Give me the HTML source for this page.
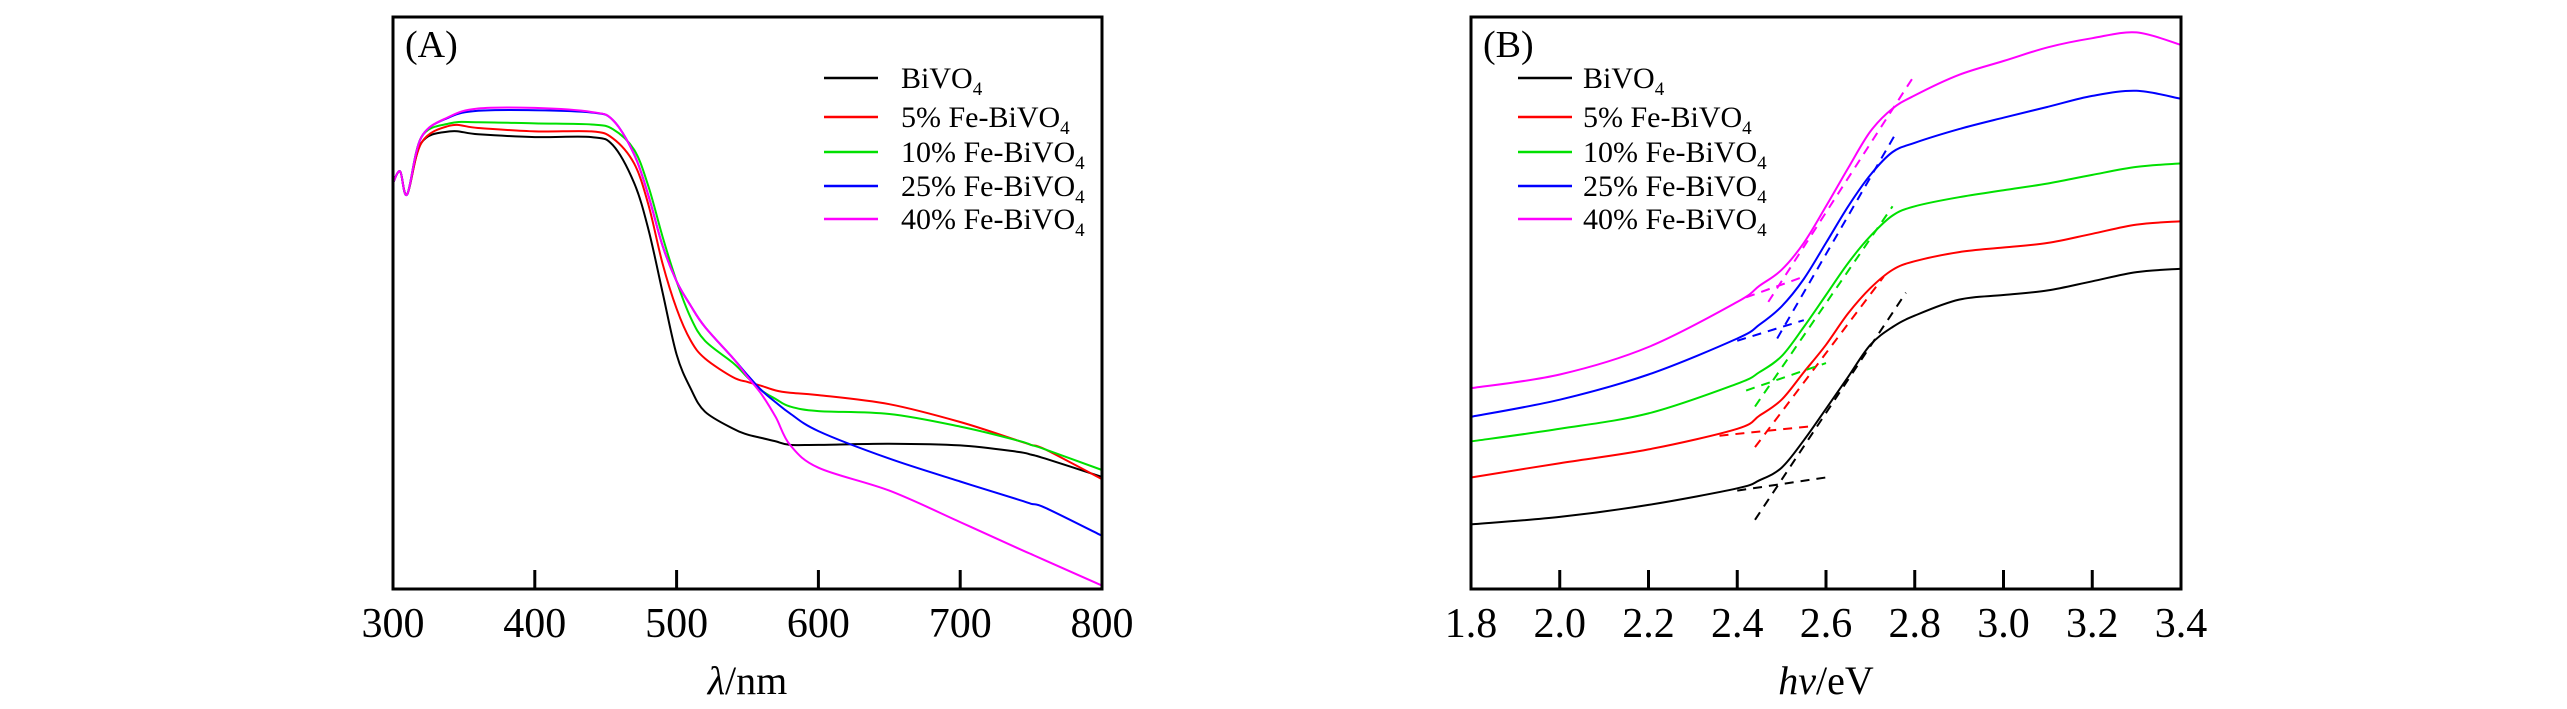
<!DOCTYPE html>
<html><head><meta charset="utf-8"><style>
html,body{margin:0;padding:0;background:#fff;}
svg{display:block;font-family:"Liberation Serif","Times New Roman",serif;}
</style></head><body>
<svg id="fig" width="2567" height="709" viewBox="0 0 2567 709" xmlns="http://www.w3.org/2000/svg"></svg>
<script>
// ---- Panel A data (wavelength nm, relative absorbance 0-100) ----
const aLambda = [300,305,310,320,340,360,400,440,455,470,480,490,500,510,520,540,550,560,570,580,600,650,700,740,750,760,800];
const aBlack  = [71,73,69,78,80,79.5,79,79,77.6,71,63,52,41,35,31,28,27,26.4,25.8,25.2,25.2,25.4,25.1,24,23.5,22.8,19.6];
const aRed    = [71,73,69,78,81,80.6,80,80,78.8,74.4,67.3,57,49,43.4,40.3,37,36.2,35.5,34.7,34.3,33.9,32.3,29.2,26,25.2,24.4,19.2];
const aGreen  = [71,73,69,79,81.4,81.6,81.4,81.2,80.4,76.8,70.5,61.7,53.8,47.4,43.4,39.5,37,34.7,33.2,31.9,31.1,30.6,28.4,26,25.2,24.4,20.8];
const aBlue   = [71,73,69,79,82.5,83.6,83.7,83.3,82,76,68.9,60.1,53.8,49.5,45.8,40.3,37.4,34.7,32.6,30.7,27.6,22.8,18.8,15.7,14.9,14.2,9.3];
const aMag    = [71,73,69,79,82.6,84,84.1,83.4,82,76,68.9,60.1,53.8,49.5,45.8,40.3,37.1,34,30,25.2,21.2,17.2,11.7,7.2,6.1,5,0.6];
const aTicks  = [300,400,500,600,700,800];
// ---- Panel B data (photon energy eV) ----
const bEnergy = [1.8,2.0,2.2,2.4,2.45,2.5,2.55,2.6,2.65,2.7,2.75,2.8,2.9,3.0,3.1,3.2,3.3,3.4];
const bBlack  = [11.3,12.6,14.7,17.6,19,21.2,26,31.5,37.1,42.7,45.8,47.8,50.6,51.4,52.2,53.8,55.4,56];
const bRed    = [19.5,22,24.4,28,30.3,33.1,37.9,42.7,48.2,52.6,55.8,57.3,58.9,59.7,60.5,62.1,63.7,64.3];
const bGreen  = [25.8,28,30.7,35.9,37.9,40.7,45.8,51.4,57,61.7,65.3,66.9,68.5,69.7,70.9,72.4,73.8,74.4];
const bBlue   = [30.1,33.1,37.5,43.8,46.2,49.4,54.2,60.5,66.9,72.4,76.4,78,80.4,82.4,84.3,86.2,87.1,85.7];
const bMag    = [35.1,37.5,42.3,50.2,53,55.8,60.5,66.9,73.6,80,84,86.3,89.9,92.3,94.7,96.3,97.3,95.1];
const bTicks  = [1.8,2.0,2.2,2.4,2.6,2.8,3.0,3.2,3.4];
// tangent (dashed) lines: [x1,y1,x2,y2]
const bTanBlack = [[2.4,17.2,2.6,19.5],[2.44,12.1,2.78,51.8]];
const bTanRed   = [[2.36,26.8,2.56,28.4],[2.44,24.8,2.73,54.6]];
const bTanGreen = [[2.42,34.7,2.6,39.5],[2.44,31.9,2.75,66.9]];
const bTanBlue  = [[2.4,43.4,2.55,47],[2.49,43.8,2.76,80]];
const bTanMag   = [[2.42,51,2.55,54.6],[2.47,50.2,2.8,89.9]];
const seriesNames = ["BiVO4","5% Fe-BiVO4","10% Fe-BiVO4","25% Fe-BiVO4","40% Fe-BiVO4"];
const colors = ["#000000","#ff0000","#00e000","#0000ff","#ff00ff"];

const NS="http://www.w3.org/2000/svg";
const svg=document.getElementById('fig');
function mk(tag,attrs,parent){const e=document.createElementNS(NS,tag);for(const k in attrs)e.setAttribute(k,attrs[k]);(parent||svg).appendChild(e);return e;}
const plotTop=17, plotBot=589;
function yS(v){return plotBot-(v/100)*(plotBot-plotTop);}
function smooth(pts){
  let d='M'+pts[0][0].toFixed(1)+','+pts[0][1].toFixed(1);
  for(let i=0;i<pts.length-1;i++){
    const p0=pts[i-1]||pts[i],p1=pts[i],p2=pts[i+1],p3=pts[i+2]||p2;
    const c1=[p1[0]+(p2[0]-p0[0])/6,p1[1]+(p2[1]-p0[1])/6];
    const c2=[p2[0]-(p3[0]-p1[0])/6,p2[1]-(p3[1]-p1[1])/6];
    d+='C'+c1[0].toFixed(1)+','+c1[1].toFixed(1)+' '+c2[0].toFixed(1)+','+c2[1].toFixed(1)+' '+p2[0].toFixed(1)+','+p2[1].toFixed(1);
  }
  return d;
}

function panel(id,x0,x1,xmin,xmax,ticks,fmt,xs,ys,label,xlabelHTML,legX,legTextX,tans){
  const g=mk('g',{});
  
  
  const xS=v=>x0+(v-xmin)/(xmax-xmin)*(x1-x0);
  ys.forEach((arr,i)=>{
    const pts=arr.map((v,j)=>[xS(xs[j]),yS(v)]);
    const p=mk('path',{d:smooth(pts),fill:'none',stroke:colors[i],'stroke-width':2,'stroke-linejoin':'round'},g);
    
    
  });
  if(tans){tans.forEach((set,i)=>set.forEach(t=>{
    const l=mk('line',{x1:xS(t[0]),y1:yS(t[1]),x2:xS(t[2]),y2:yS(t[3]),stroke:colors[i],'stroke-width':2,'stroke-dasharray':'9,7'},g);
    
    
  }));}
  const fr=mk('rect',{x:x0,y:plotTop,width:x1-x0,height:plotBot-plotTop,fill:'none',stroke:'#000','stroke-width':3},g);
  
  
  ticks.forEach(t=>{
    const x=xS(t);
    if(t>xmin+1e-9&&t<xmax-1e-9){const tk=mk('line',{x1:x,y1:plotBot,x2:x,y2:plotBot-19,stroke:'#000','stroke-width':3},g);
      
      }
    const tx=mk('text',{x:x,y:637,'font-size':42,'text-anchor':'middle'},g);
    tx.textContent=fmt(t);
    
    
  });
  const xl=mk('text',{x:(x0+x1)/2,y:694,'font-size':40,'text-anchor':'middle'},g);
  xl.innerHTML=xlabelHTML;
  
  
  const pl=mk('text',{x:x0+12,y:57,'font-size':38},g);
  pl.textContent=label;
  
  
  const rows=[78,117,152,186,219];
  seriesNames.forEach((n,i)=>{
    const ln=mk('line',{x1:legX,y1:rows[i],x2:legX+54,y2:rows[i],stroke:colors[i],'stroke-width':2.5},g);
    
    
    const t=mk('text',{x:legTextX,y:rows[i]+10,'font-size':30},g);
    t.innerHTML=n.replace('BiVO4','BiVO<tspan font-size="19" dy="7">4</tspan>');
    
    
  });
}
panel('a',393,1102,300,800,aTicks,v=>String(v),aLambda,[aBlack,aRed,aGreen,aBlue,aMag],'(A)','<tspan font-style="italic">λ</tspan>/nm',824,901,null);
panel('b',1471,2181,1.8,3.4,bTicks,v=>v.toFixed(1),bEnergy,[bBlack,bRed,bGreen,bBlue,bMag],'(B)','<tspan font-style="italic">hν</tspan>/eV',1518,1583,[bTanBlack,bTanRed,bTanGreen,bTanBlue,bTanMag]);
</script>
</body></html>
